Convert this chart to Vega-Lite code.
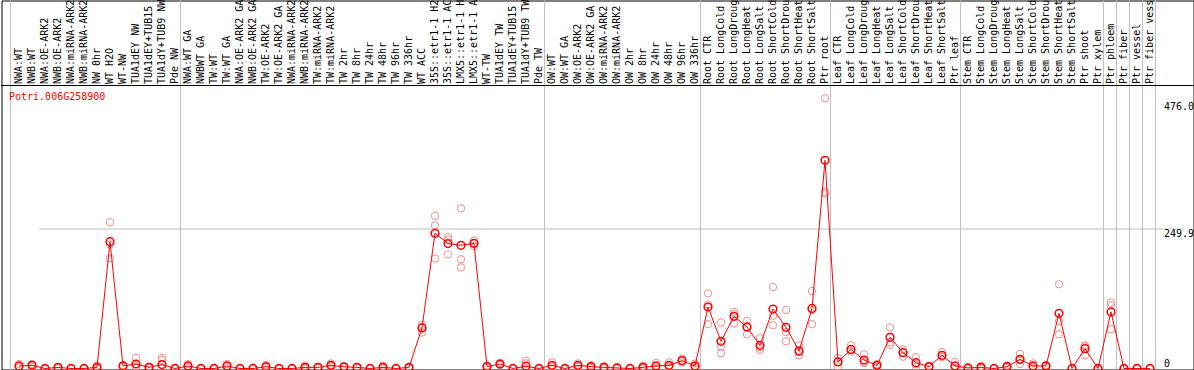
{
  "$schema": "https://vega.github.io/schema/vega-lite/v6.json",
  "autosize": {"type": "none"},
  "padding": {"left": 1.5, "top": 0.5, "right": 0, "bottom": 0},
  "background": "white",
  "width": 1192,
  "height": 369,
  "config": {
    "view": {"stroke": "black", "strokeWidth": 1},
    "font": "DejaVu Sans Mono"
  },
  "title": {
    "text": "Potri.006G258900", "anchor": "start", "offset": -109, "dx": 8,
    "color": "#ff0000", "font": "DejaVu Sans Mono", "fontSize": 10, "fontWeight": "normal"
  },
  "datasets": {
    "expr": [
      {"c": "NWA:WT", "m": 4.5, "r": [8, 3, 2]},
      {"c": "NWB:WT", "m": 5.6, "r": [8, 6, 3]},
      {"c": "NWA:OE-ARK2", "m": 0, "r": [0, 0, 0]},
      {"c": "NWB:OE-ARK2", "m": 2, "r": [3, 2, 1]},
      {"c": "NWA:miRNA-ARK2", "m": 0, "r": [0, 0, 0]},
      {"c": "NWB:miRNA-ARK2", "m": 0, "r": [0, 0, 0]},
      {"c": "NW 0hr", "m": 2, "r": [5, 1, 0]},
      {"c": "WT H2O", "m": 226, "r": [260.5, 196.4, 221]},
      {"c": "WT-NW", "m": 4.5, "r": [6, 4, 3]},
      {"c": "TUA1dEY NW", "m": 8, "r": [19, 4, 1]},
      {"c": "TUA1dEY+TUB15 NW", "m": 2, "r": [3, 2, 1]},
      {"c": "TUA1dY+TUB9 NW", "m": 7, "r": [19, 15, 0]},
      {"c": "Pde NW", "m": 0, "r": [0, 0, 0]},
      {"c": "NWA:WT GA", "m": 4.5, "r": [8, 4, 2]},
      {"c": "NWBWT GA", "m": 0, "r": [0, 0, 0]},
      {"c": "TW:WT", "m": 0, "r": [0, 0, 0]},
      {"c": "TW:WT GA", "m": 4.5, "r": [8, 4, 2]},
      {"c": "NWA:OE-ARK2 GA", "m": 0, "r": [0, 0, 0]},
      {"c": "NWB:OE-ARK2 GA", "m": 0, "r": [0, 0, 0]},
      {"c": "TW:OE-ARK2", "m": 3.3, "r": [6, 3, 1]},
      {"c": "TW:OE-ARK2 GA", "m": 0, "r": [0, 0, 0]},
      {"c": "NWA:miRNA-ARK2 GA", "m": 0, "r": [0, 0, 0]},
      {"c": "NWB:miRNA-ARK2 GA", "m": 2, "r": [5, 1, 0]},
      {"c": "TW:miRNA-ARK2", "m": 2, "r": [3, 2, 1]},
      {"c": "TW:miRNA-ARK2 GA", "m": 5.6, "r": [9, 5, 3]},
      {"c": "TW 2hr", "m": 3, "r": [4, 3, 2]},
      {"c": "TW 8hr", "m": 2, "r": [3, 2, 1]},
      {"c": "TW 24hr", "m": 0, "r": [0, 0, 0]},
      {"c": "TW 48hr", "m": 2, "r": [5, 1, 0]},
      {"c": "TW 96hr", "m": 0, "r": [0, 0, 0]},
      {"c": "TW 336hr", "m": 2, "r": [3, 2, 1]},
      {"c": "WT ACC", "m": 72.2, "r": [78, 64, 74]},
      {"c": "35S::etr1-1 H2O", "m": 241, "r": [272, 255, 196]},
      {"c": "35S::etr1-1 ACC", "m": 222.6, "r": [234, 203.5, 230]},
      {"c": "LMX5::etr1-1 H2O", "m": 219.6, "r": [285.5, 194.6, 180.3]},
      {"c": "LMX5::etr1-1 ACC", "m": 223, "r": [228, 218, 223]},
      {"c": "WT-TW", "m": 3.3, "r": [5, 3, 2]},
      {"c": "TUA1dEY TW", "m": 8, "r": [10, 8, 6]},
      {"c": "TUA1dEY+TUB15 TW", "m": 0, "r": [0, 0, 0]},
      {"c": "TUA1dY+TUB9 TW", "m": 4, "r": [14, 9, 0]},
      {"c": "Pde TW", "m": 0, "r": [0, 0, 0]},
      {"c": "OW:WT", "m": 5.6, "r": [11, 4, 2]},
      {"c": "OW:WT GA", "m": 0, "r": [0, 0, 0]},
      {"c": "OW:OE-ARK2", "m": 5.6, "r": [9, 5, 3]},
      {"c": "OW:OE-ARK2 GA", "m": 3.3, "r": [6, 3, 1]},
      {"c": "OW:miRNA-ARK2", "m": 2, "r": [4, 1, 1]},
      {"c": "OW:miRNA-ARK2 GA", "m": 1, "r": [2, 1, 0]},
      {"c": "OW 2hr", "m": 0, "r": [0, 0, 0]},
      {"c": "OW 8hr", "m": 2, "r": [5, 1, 0]},
      {"c": "OW 24hr", "m": 4.5, "r": [10, 3, 1]},
      {"c": "OW 48hr", "m": 5.6, "r": [11, 4, 2]},
      {"c": "OW 96hr", "m": 14, "r": [17.5, 14, 10.5]},
      {"c": "OW 336hr", "m": 4.5, "r": [9, 3, 1]},
      {"c": "Root CTR", "m": 109.6, "r": [134, 114, 79]},
      {"c": "Root LongCold", "m": 48.4, "r": [82, 39, 27]},
      {"c": "Root LongDrought", "m": 93, "r": [101, 80.5, 97]},
      {"c": "Root LongHeat", "m": 74, "r": [85, 61, 73]},
      {"c": "Root LongSalt", "m": 41.3, "r": [54.4, 33, 37.7]},
      {"c": "Root ShortCold", "m": 106, "r": [145, 94, 77]},
      {"c": "Root ShortDrought", "m": 73.4, "r": [104.4, 65, 48.4]},
      {"c": "Root ShortHeat", "m": 31.2, "r": [41.3, 23.5, 29]},
      {"c": "Root ShortSalt", "m": 107, "r": [138, 79, 104]},
      {"c": "Ptr root", "m": 371, "r": [481.6, 315, 312]},
      {"c": "Leaf CTR", "m": 11.6, "r": [18.7, 3.3, 12]},
      {"c": "Leaf LongCold", "m": 34, "r": [41.3, 33, 30]},
      {"c": "Leaf LongDrought", "m": 15, "r": [25.3, 10.4, 10]},
      {"c": "Leaf LongHeat", "m": 5.6, "r": [8, 6, 3]},
      {"c": "Leaf LongSalt", "m": 55.6, "r": [73.4, 46.6, 42]},
      {"c": "Leaf ShortCold", "m": 28.2, "r": [34, 21, 28]},
      {"c": "Leaf ShortDrought", "m": 10.4, "r": [20, 3.3, 8]},
      {"c": "Leaf ShortHeat", "m": 3.3, "r": [5, 3, 2]},
      {"c": "Leaf ShortSalt", "m": 23.5, "r": [29.4, 21, 20]},
      {"c": "Ptr leaf", "m": 4.5, "r": [11.6, 1, 1]},
      {"c": "Stem CTR", "m": 1, "r": [1, 1, 0]},
      {"c": "Stem LongCold", "m": 2, "r": [4.5, 1, 0]},
      {"c": "Stem LongDrought", "m": 0, "r": [0, 0, 0]},
      {"c": "Stem LongHeat", "m": 3.3, "r": [5.6, 3, 1]},
      {"c": "Stem LongSalt", "m": 16.3, "r": [25.8, 8, 15]},
      {"c": "Stem ShortCold", "m": 4.5, "r": [9, 3, 1]},
      {"c": "Stem ShortDrought", "m": 4.5, "r": [5.6, 4.5, 3]},
      {"c": "Stem ShortHeat", "m": 98.4, "r": [150, 84.7, 61]},
      {"c": "Stem ShortSalt", "m": 0, "r": [0, 0, 0]},
      {"c": "Ptr shoot", "m": 35.4, "r": [41.3, 23.5, 39]},
      {"c": "Ptr xylem", "m": 0, "r": [0, 0, 0]},
      {"c": "Ptr phloem", "m": 100.8, "r": [117.4, 112.6, 69.8]},
      {"c": "Ptr fiber", "m": 0, "r": [0, 0, 0]},
      {"c": "Ptr vessel", "m": 0, "r": [0, 0, 0]},
      {"c": "Ptr fiber vessel", "m": 0, "r": [0, 0, 0]}
    ]
  },
  "data": {"name": "expr"},
  "layer": [
    {
      "mark": {"type": "rule", "color": "#c0c0c0", "strokeWidth": 1},
      "encoding": {
        "x": {
          "field": "c", "type": "nominal", "sort": null, "bandPosition": 0.923,
          "scale": {"range": [11, 1155], "paddingInner": 0, "paddingOuter": 0},
          "axis": {"orient": "top", "offset": -85, "title": null, "domain": false, "ticks": false, "tickSize": 0, "labelAngle": -90, "labelAlign": "left", "labelBaseline": "middle", "labelPadding": 2, "labelLimit": 91, "labelOverlap": false, "labelFontSize": 10, "labelColor": "black", "grid": false}
        },
        "strokeOpacity": {
          "condition": {"test": "indexof(['Pde NW','Pde TW','OW 336hr','Ptr root','Ptr leaf','Ptr xylem','Ptr phloem','Ptr fiber','Ptr vessel','Ptr fiber vessel'], datum.c) >= 0", "value": 1},
          "value": 0
        }
      }
    },
    {
      "mark": {"type": "rule", "color": "#c0c0c0", "strokeWidth": 1},
      "encoding": {
        "x": {
          "field": "c", "type": "nominal", "sort": null, "bandPosition": -0.154,
          "scale": {"range": [11, 1155], "paddingInner": 0, "paddingOuter": 0},
          "axis": {"orient": "top", "offset": -85, "title": null, "domain": false, "ticks": false, "tickSize": 0, "labelAngle": -90, "labelAlign": "left", "labelBaseline": "middle", "labelPadding": 2, "labelLimit": 91, "labelOverlap": false, "labelFontSize": 10, "labelColor": "black", "grid": false}
        },
        "strokeOpacity": {
          "condition": {"test": "datum.c === 'NWA:WT'", "value": 1},
          "value": 0
        }
      }
    },
    {
      "mark": {"type": "rule", "color": "black", "strokeWidth": 1},
      "encoding": {
        "y": {
          "datum": 504.4, "type": "quantitative",
          "scale": {"domain": [-1.8, 504.4], "range": [369, 85], "nice": false, "zero": false},
          "axis": {"orient": "right", "offset": -30, "title": null, "values": [0, 249.9, 476.0], "labelExpr": "datum.value === 0 ? '0' : format(datum.value, '.1f')", "ticks": false, "tickSize": 0, "domain": false, "labelPadding": 0, "labelAlign": "left", "labelFlush": false, "labelBaseline": {"condition": {"test": "datum.value === 0", "value": "bottom"}, "value": "top"}, "labelFontSize": 10, "labelColor": "black", "grid": true, "gridColor": {"condition": {"test": "abs(datum.value - 249.9) < 0.01", "value": "#c0c0c0"}, "value": "rgba(0,0,0,0)"}}
        }
      }
    },
    {
      "transform": [{"flatten": ["r"]}],
      "mark": {"type": "point", "shape": "circle", "filled": false, "size": 55, "strokeWidth": 1, "color": "#f09090", "opacity": 1},
      "encoding": {
        "x": {
          "field": "c", "type": "nominal", "sort": null,
          "scale": {"range": [11, 1155], "paddingInner": 0, "paddingOuter": 0},
          "axis": {"orient": "top", "offset": -85, "title": null, "domain": false, "ticks": false, "tickSize": 0, "labelAngle": -90, "labelAlign": "left", "labelBaseline": "middle", "labelPadding": 2, "labelLimit": 91, "labelOverlap": false, "labelFontSize": 10, "labelColor": "black", "grid": false}
        },
        "y": {
          "field": "r", "type": "quantitative",
          "scale": {"domain": [-1.8, 504.4], "range": [369, 85], "nice": false, "zero": false},
          "axis": {"orient": "right", "offset": -30, "title": null, "values": [0, 249.9, 476.0], "labelExpr": "datum.value === 0 ? '0' : format(datum.value, '.1f')", "ticks": false, "tickSize": 0, "domain": false, "labelPadding": 0, "labelAlign": "left", "labelFlush": false, "labelBaseline": {"condition": {"test": "datum.value === 0", "value": "bottom"}, "value": "top"}, "labelFontSize": 10, "labelColor": "black", "grid": true, "gridColor": {"condition": {"test": "abs(datum.value - 249.9) < 0.01", "value": "#c0c0c0"}, "value": "rgba(0,0,0,0)"}}
        }
      }
    },
    {
      "mark": {"type": "line", "color": "#ff0000", "strokeWidth": 1},
      "encoding": {
        "x": {
          "field": "c", "type": "nominal", "sort": null,
          "scale": {"range": [11, 1155], "paddingInner": 0, "paddingOuter": 0},
          "axis": {"orient": "top", "offset": -85, "title": null, "domain": false, "ticks": false, "tickSize": 0, "labelAngle": -90, "labelAlign": "left", "labelBaseline": "middle", "labelPadding": 2, "labelLimit": 91, "labelOverlap": false, "labelFontSize": 10, "labelColor": "black", "grid": false}
        },
        "y": {
          "field": "m", "type": "quantitative",
          "scale": {"domain": [-1.8, 504.4], "range": [369, 85], "nice": false, "zero": false},
          "axis": {"orient": "right", "offset": -30, "title": null, "values": [0, 249.9, 476.0], "labelExpr": "datum.value === 0 ? '0' : format(datum.value, '.1f')", "ticks": false, "tickSize": 0, "domain": false, "labelPadding": 0, "labelAlign": "left", "labelFlush": false, "labelBaseline": {"condition": {"test": "datum.value === 0", "value": "bottom"}, "value": "top"}, "labelFontSize": 10, "labelColor": "black", "grid": true, "gridColor": {"condition": {"test": "abs(datum.value - 249.9) < 0.01", "value": "#c0c0c0"}, "value": "rgba(0,0,0,0)"}}
        }
      }
    },
    {
      "mark": {"type": "point", "shape": "circle", "filled": false, "size": 60, "strokeWidth": 1.5, "color": "#ff0000", "opacity": 1},
      "encoding": {
        "x": {
          "field": "c", "type": "nominal", "sort": null,
          "scale": {"range": [11, 1155], "paddingInner": 0, "paddingOuter": 0},
          "axis": {"orient": "top", "offset": -85, "title": null, "domain": false, "ticks": false, "tickSize": 0, "labelAngle": -90, "labelAlign": "left", "labelBaseline": "middle", "labelPadding": 2, "labelLimit": 91, "labelOverlap": false, "labelFontSize": 10, "labelColor": "black", "grid": false}
        },
        "y": {
          "field": "m", "type": "quantitative",
          "scale": {"domain": [-1.8, 504.4], "range": [369, 85], "nice": false, "zero": false},
          "axis": {"orient": "right", "offset": -30, "title": null, "values": [0, 249.9, 476.0], "labelExpr": "datum.value === 0 ? '0' : format(datum.value, '.1f')", "ticks": false, "tickSize": 0, "domain": false, "labelPadding": 0, "labelAlign": "left", "labelFlush": false, "labelBaseline": {"condition": {"test": "datum.value === 0", "value": "bottom"}, "value": "top"}, "labelFontSize": 10, "labelColor": "black", "grid": true, "gridColor": {"condition": {"test": "abs(datum.value - 249.9) < 0.01", "value": "#c0c0c0"}, "value": "rgba(0,0,0,0)"}}
        }
      }
    }
  ]
}
